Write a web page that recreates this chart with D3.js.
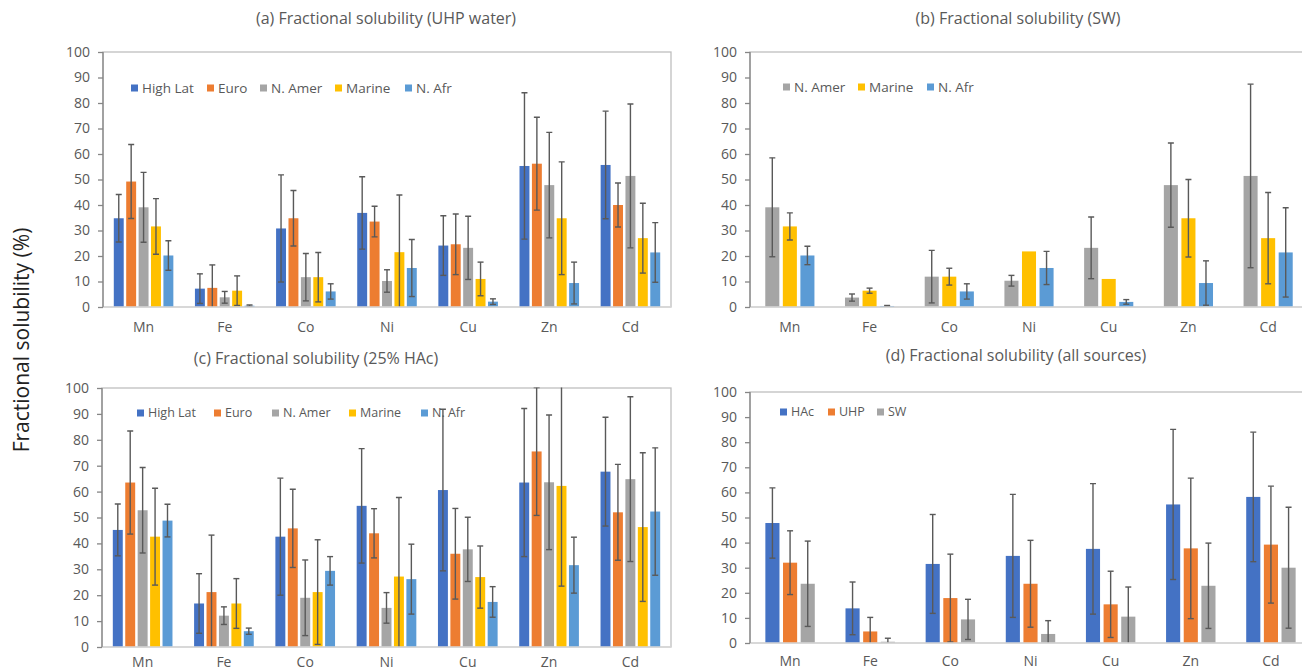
<!DOCTYPE html>
<html>
  <head>
    <meta charset="utf-8" />
    <title>Fractional solubility</title>
    <script src="https://d3js.org/d3.v7.min.js"></script>
    <style>
      body { margin: 0; background: #fff; }
      text { font-family: "Open Sans", sans-serif; }
    </style>
  </head>
  <body>
    <div id="chart"></div>
    <script>
      // data
      var categories = ["Mn", "Fe", "Co", "Ni", "Cu", "Zn", "Cd"];
      var yTicks = [0, 10, 20, 30, 40, 50, 60, 70, 80, 90, 100];

      // (a) UHP water
      var uhpSeries = ["High Lat", "Euro", "N. Amer", "Marine", "N. Afr"];
      var uhpValues = [
        [34.8, 7.2, 30.8, 36.9, 24.1, 55.3, 55.7],
        [49.2, 7.5, 34.8, 33.5, 24.6, 56.2, 40.0],
        [39.1, 3.8, 11.7, 10.2, 23.2, 47.8, 51.4],
        [31.6, 6.4, 11.7, 21.5, 11.0, 34.8, 27.0],
        [20.2, 0.5, 6.1, 15.3, 2.1, 9.4, 21.4]
      ];
      var uhpErrors = [
        [9.3, 5.8, 21, 14.2, 11.7, 28.7, 21.1],
        [14.5, 9, 10.9, 6, 11.9, 18.2, 8.6],
        [13.7, 2.3, 9.3, 4.4, 12.4, 20.7, 28.2],
        [10.9, 5.8, 9.7, 22.4, 6.6, 22.1, 13.7],
        [5.8, 0.3, 3, 11.2, 1.1, 8.2, 11.7]
      ];

      // (b) SW
      var swSeries = ["N. Amer", "Marine", "N. Afr"];
      var swValues = [
        [39.1, 3.7, 11.9, 10.3, 23.2, 47.8, 51.4],
        [31.6, 6.4, 11.9, 21.8, 11.0, 34.8, 27.0],
        [20.2, 0.4, 6.1, 15.3, 2.0, 9.4, 21.4]
      ];
      var swErrors = [
        [19.4, 1.4, 10.3, 2.1, 12.1, 16.5, 36],
        [5.3, 1, 3.3, null, null, 15.2, 17.9],
        [3.6, 0.2, 3, 6.5, 0.9, 8.7, 17.5]
      ];

      // (c) 25% HAc
      var hacSeries = ["High Lat", "Euro", "N. Amer", "Marine", "N. Afr"];
      var hacValues = [
        [45.2, 16.8, 42.6, 54.5, 60.6, 63.5, 67.7],
        [63.5, 21.2, 45.8, 43.9, 36.0, 75.5, 52.0],
        [52.8, 12.1, 19.0, 15.1, 37.7, 63.6, 64.8],
        [42.6, 16.8, 21.2, 27.2, 27.0, 62.2, 46.3],
        [48.8, 6.1, 29.4, 26.2, 17.4, 31.6, 52.3]
      ];
      var hacErrors = [
        [10, 11.5, 22.6, 22.1, 31.2, 28.6, 21],
        [19.9, 22, 15.1, 9.5, 17.5, 24.7, 18.5],
        [16.5, 3.4, 14.6, 5.9, 12.4, 26, 31.8],
        [18.7, 9.6, 20.2, 30.5, 12, 38.7, 28.7],
        [6.3, 1.2, 5.5, 13.5, 5.9, 10.8, 24.6]
      ];

      // (d) all sources
      var allSeries = ["HAc", "UHP", "SW"];
      var allValues = [
        [47.8, 13.8, 31.5, 34.7, 37.5, 55.2, 58.2],
        [32.0, 4.6, 17.9, 23.6, 15.4, 37.7, 39.2],
        [23.6, 0.5, 9.4, 3.6, 10.5, 22.8, 30.0]
      ];
      var allErrors = [
        [14, 10.5, 19.7, 24.5, 26, 29.9, 25.8],
        [12.7, 5.6, 17.5, 17.3, 13.2, 28, 23.3],
        [17, 1.4, 8, 5.3, 11.8, 17, 24.1]
      ];

      var colorOf = {
        "High Lat": "#4472c4", "Euro": "#ed7d31", "N. Amer": "#a5a5a5",
        "Marine": "#ffc000", "N. Afr": "#5b9bd5",
        "HAc": "#4472c4", "UHP": "#ed7d31", "SW": "#a5a5a5"
      };

      var W = 1302, H = 672;
      var svg = d3.select("#chart").append("svg")
        .attr("width", W).attr("height", H);

      // layout of the four panels
      var panels = [
        { id: "a", title: "(a) Fractional solubility (UHP water)", titleX: 386, titleY: 18,
          x0: 103, x1: 671, y0: 307, y1: 52, labelY: 327,
          series: uhpSeries, values: uhpValues, errors: uhpErrors,
          legendY: 88, legendX: [131, 207, 260, 335, 405], legendSize: 13.5 },
        { id: "b", title: "(b) Fractional solubility (SW)", titleX: 1018, titleY: 18,
          x0: 750, x1: 1308, y0: 307, y1: 52, labelY: 327,
          series: swSeries, values: swValues, errors: swErrors,
          legendY: 87, legendX: [783, 858, 927], legendSize: 13.5 },
        { id: "c", title: "(c) Fractional solubility (25% HAc)", titleX: 316, titleY: 358,
          x0: 102, x1: 671, y0: 647, y1: 388, labelY: 662,
          series: hacSeries, values: hacValues, errors: hacErrors,
          legendY: 413, legendX: [137, 214, 272, 349, 421], legendSize: 12.5 },
        { id: "d", title: "(d) Fractional solubility (all sources)", titleX: 1016, titleY: 355,
          x0: 750, x1: 1311, y0: 643, y1: 392, labelY: 661,
          series: allSeries, values: allValues, errors: allErrors,
          legendY: 412, legendX: [780, 828, 877], legendSize: 12.5 }
      ];

      panels.forEach(function (p) {
        var g = svg.append("g").attr("class", "panel-" + p.id);

        var x = d3.scaleBand().domain(categories).range([p.x0, p.x1]).padding(0);
        var y = d3.scaleLinear().domain([0, 100]).range([p.y0, p.y1]);

        // inner band: Excel-like gap width of ~154%
        var n = p.series.length;
        var step = x.bandwidth() / (n + 1.54);
        var xs = d3.scaleBand().domain(p.series)
          .range([(x.bandwidth() - n * step) / 2, (x.bandwidth() + n * step) / 2])
          .paddingInner(0.2).paddingOuter(0.1);

        // plot frame
        g.append("rect")
          .attr("x", p.x0).attr("y", p.y1)
          .attr("width", p.x1 - p.x0).attr("height", p.y0 - p.y1)
          .attr("fill", "none").attr("stroke", "#bfbfbf").attr("stroke-width", 1.3);

        g.append("clipPath").attr("id", "clip-" + p.id)
          .append("rect")
          .attr("x", p.x0).attr("y", p.y1 - 0.5)
          .attr("width", p.x1 - p.x0).attr("height", p.y0 - p.y1 + 0.5);

        // legend
        var lg = g.append("g").attr("class", "legend");
        p.series.forEach(function (s, i) {
          var sz = 7;
          lg.append("rect")
            .attr("x", p.legendX[i]).attr("y", p.legendY - sz / 2)
            .attr("width", sz).attr("height", sz)
            .attr("fill", colorOf[s]);
          lg.append("text")
            .attr("x", p.legendX[i] + sz + 4).attr("y", p.legendY)
            .attr("dy", "0.35em")
            .attr("font-size", p.legendSize)
            .attr("fill", "#595959")
            .text(s);
        });

        // bars
        var plot = g.append("g").attr("clip-path", "url(#clip-" + p.id + ")");
        p.series.forEach(function (s, si) {
          var rows = categories.map(function (c, ci) {
            return { cat: c, v: p.values[si][ci], e: p.errors[si][ci] };
          });
          plot.append("g").selectAll("rect")
            .data(rows).enter().append("rect")
            .attr("x", function (d) { return x(d.cat) + xs(s); })
            .attr("y", function (d) { return y(d.v); })
            .attr("width", xs.bandwidth())
            .attr("height", function (d) { return y(0) - y(d.v); })
            .attr("fill", colorOf[s]);

          var eb = plot.append("g").selectAll("g")
            .data(rows.filter(function (d) { return d.e != null; }))
            .enter().append("g")
            .attr("stroke", "#595959").attr("stroke-width", 1.4);
          var cx = function (d) { return x(d.cat) + xs(s) + xs.bandwidth() / 2; };
          eb.append("line")
            .attr("x1", cx).attr("x2", cx)
            .attr("y1", function (d) { return y(d.v - d.e); })
            .attr("y2", function (d) { return y(d.v + d.e); });
          eb.append("line")
            .attr("x1", function (d) { return cx(d) - 3; })
            .attr("x2", function (d) { return cx(d) + 3; })
            .attr("y1", function (d) { return y(d.v + d.e); })
            .attr("y2", function (d) { return y(d.v + d.e); });
          eb.append("line")
            .attr("x1", function (d) { return cx(d) - 3; })
            .attr("x2", function (d) { return cx(d) + 3; })
            .attr("y1", function (d) { return y(d.v - d.e); })
            .attr("y2", function (d) { return y(d.v - d.e); });
        });

        // x axis baseline
        g.append("line")
          .attr("x1", p.x0).attr("x2", p.x1)
          .attr("y1", p.y0).attr("y2", p.y0)
          .attr("stroke", "#d9d9d9").attr("stroke-width", 1.3);

        // category labels
        g.append("g").selectAll("text")
          .data(categories).enter().append("text")
          .attr("x", function (c) { return x(c) + x.bandwidth() / 2; })
          .attr("y", p.labelY).attr("dy", "0.35em")
          .attr("text-anchor", "middle")
          .attr("font-size", 14).attr("fill", "#595959")
          .text(function (c) { return c; });

        // y axis
        var ya = g.append("g")
          .attr("transform", "translate(" + p.x0 + ",0)")
          .call(d3.axisLeft(y).tickValues(yTicks).tickSize(5).tickPadding(8));
        ya.selectAll("path, line").attr("stroke", "#868686").attr("stroke-width", 1.3);
        ya.select(".domain").attr("d", "M0," + p.y0 + "V" + p.y1);
        ya.selectAll("text").attr("font-size", 14).attr("fill", "#595959")
          .style("font-family", "'Open Sans', sans-serif");

        // title
        g.append("text")
          .attr("x", p.titleX).attr("y", p.titleY).attr("dy", "0.35em")
          .attr("text-anchor", "middle")
          .attr("font-size", 16).attr("fill", "#595959")
          .text(p.title);
      });

      // shared y label
      svg.append("text")
        .attr("transform", "translate(22,340) rotate(-90)")
        .attr("text-anchor", "middle").attr("dy", "0.35em")
        .attr("font-size", 21).attr("fill", "#222")
        .text("Fractional solubility (%)");
    </script>
  </body>
</html>
